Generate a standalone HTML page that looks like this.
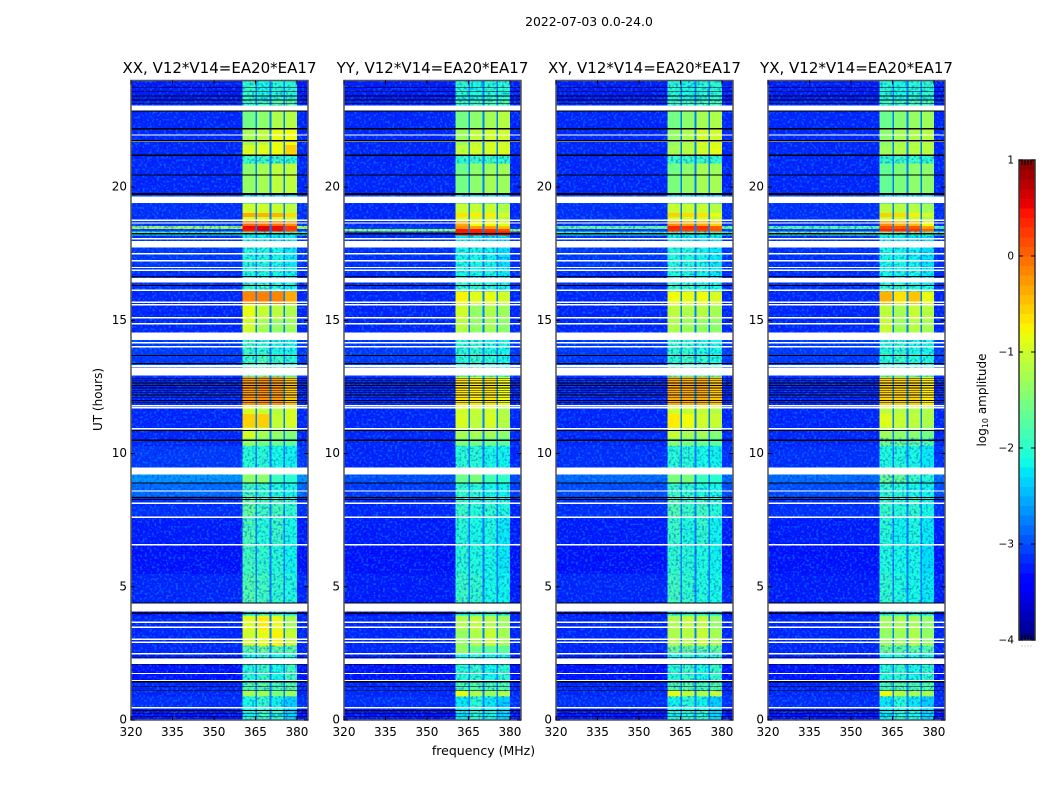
<!DOCTYPE html>
<html>
<head>
<meta charset="utf-8">
<title>2022-07-03 spectrogram</title>
<style>
html,body{margin:0;padding:0;background:#fff;width:1050px;height:800px;overflow:hidden}
svg{display:block}
text{font-family:"DejaVu Sans","Liberation Sans",sans-serif;fill:#000}
</style>
</head>
<body>
<svg id="fig" xmlns="http://www.w3.org/2000/svg" width="1050" height="800" viewBox="0 0 1050 800">
  <defs id="defs">
    <filter id="speckle-light" x="0" y="0" width="100%" height="100%" color-interpolation-filters="sRGB">
      <feTurbulence type="fractalNoise" baseFrequency="0.42" numOctaves="1" seed="7"/>
      <feColorMatrix type="matrix" values="0 0 0 0 0  0 0 0 0 0.72  0 0 0 0 1  7 0 0 0 -3.6"/>
    </filter>
    <filter id="speckle-dark" x="0" y="0" width="100%" height="100%" color-interpolation-filters="sRGB">
      <feTurbulence type="fractalNoise" baseFrequency="0.42" numOctaves="1" seed="19"/>
      <feColorMatrix type="matrix" values="0 0 0 0 0  0 0 0 0 0  0 0 0 0 0.8  7 0 0 0 -3.6"/>
    </filter>
  </defs>
  <text x="589" y="26" text-anchor="middle" font-size="12.4">2022-07-03 0.0-24.0</text>
  <text x="483.5" y="755" text-anchor="middle" font-size="12.5">frequency (MHz)</text>
  <text transform="translate(102,399.5) rotate(-90)" text-anchor="middle" font-size="12">UT (hours)</text>
  <text transform="translate(986,400) rotate(-90)" text-anchor="middle" font-size="12">log<tspan font-size="8" dy="2">10</tspan><tspan dy="-2"> amplitude</tspan></text>
  <g id="panels"></g>
  <g id="colorbar"></g>
</svg>
<script>
// ---- Chart data ----
const panelTitles = ['XX, V12*V14=EA20*EA17', 'YY, V12*V14=EA20*EA17', 'XY, V12*V14=EA20*EA17', 'YX, V12*V14=EA20*EA17'];
const freqTicks = [320, 335, 350, 365, 380];
const hourTicks = [0, 5, 10, 15, 20];
const colorbarTicks = [1, 0, -1, -2, -3, -4];
const colorbarLabels = ['1', '0', '\u22121', '\u22122', '\u22123', '\u22124'];
// Frequency blocks in MHz: the four sub-bands, separated by low-level gaps
const bandStarts = [360.4, 365.6, 370.8, 375.7];
const bandEnds = [365.0, 370.1, 375.1, 380.0];
// Time rows in hours
const rowStart = [0,.45,.9,1.1,1.5,2.1,2.5,2.8,3.4,3.95,4.4,5.5,6.6,7.6,8.4,8.9,9.47,10.3,10.6,11,11.5,11.85,12.9,13.7,14.3,15.05,15.62,16.1,16.4,17,17.75,18.2,18.35,18.45,18.55,18.72,18.9,19.05,19.41,19.72,20.44,20.9,21.2,21.6,22.2,22.85,23.3];
const rowEnd = [.45,.9,1.1,1.5,2.1,2.5,2.8,3.4,3.95,4.4,5.5,6.6,7.6,8.4,8.9,9.47,10.3,10.6,11,11.5,11.85,12.9,13.7,14.3,15.05,15.62,16.1,16.4,17,17.75,18.2,18.35,18.45,18.55,18.72,18.9,19.05,19.41,19.72,20.44,20.9,21.2,21.6,22.2,22.85,23.3,24];
// log10 amplitude per row: [background, band1, band2, band3, band4]
const levelsXX = [[-3.3,-2.1,-1.9,-2,-2.3],[-3.15,-2.1,-1.95,-2.15,-2.35],[-3.2,-1.25,-1.3,-1.5,-1.3],[-3.2,-1.75,-1.7,-1.8,-1.7],[-3.3,-2,-1.9,-2.1,-1.85],[-3.25,-2.1,-2,-2.1,-2],[-3.2,-1.7,-1.6,-1.7,-1.7],[-3.2,-1,-.85,-.75,-1.05],[-3.2,-.9,-.7,-.85,-1.25],[-3.3,-2.2,-2.1,-2.1,-2.2],[-3.2,-1.75,-1.85,-1.95,-2.05],[-3.3,-1.85,-1.95,-2,-2.15],[-3.25,-1.8,-2,-1.9,-2.1],[-3.15,-1.65,-1.85,-1.8,-1.95],[-2.85,-1.85,-1.95,-2.05,-2.1],[-2.65,-1.4,-1.4,-1.9,-2],[-3.1,-2,-2,-2.1,-2.15],[-3.2,-1.35,-1.55,-1.6,-1.7],[-3.2,-.95,-1.25,-1.35,-1.45],[-3.2,-.55,-.55,-1.05,-.95],[-3.2,-.95,-1.05,-1.15,-.95],[-3.2,-.25,-.2,-.25,-.5],[-3.1,-1.9,-1.8,-1.9,-2],[-3.1,-1.9,-1.95,-2.05,-2.1],[-3.2,-1,-1.25,-1.35,-1.3],[-3.2,-.85,-1.05,-1.1,-1.2],[-3.2,-.15,-.12,-.15,-.35],[-3.15,-1.9,-1.9,-2,-2.1],[-3.15,-2.05,-2.05,-2.1,-2.15],[-3.1,-2.05,-2.05,-2.1,-2.2],[-3.15,-2.2,-2.2,-2.25,-2.2],[-1.95,-1.8,-1.8,-1.8,-1.85],[-3.1,.45,.55,.5,.25],[-1.25,.5,.55,.5,.25],[-3.1,0,-.05,-.05,-.2],[-3.15,-.95,-.95,-.95,-1.05],[-3.15,-.35,-.4,-.4,-.6],[-3.15,-1,-1,-1.05,-1.1],[-3,-2.25,-2.25,-2.25,-2.3],[-3.2,-1.35,-1.25,-1.1,-1.1],[-3.2,-1.4,-1.25,-1.1,-1.1],[-3.2,-1.9,-1.9,-1.9,-1.95],[-3.2,-.95,-.9,-.8,-.55],[-3.2,-1.25,-1.1,-.85,-.8],[-3.2,-1.55,-1.4,-1.2,-1.15],[-3.2,-1.9,-1.85,-1.75,-1.7],[-3.25,-1.95,-2.1,-2,-2]];
const levelsYY = [[-3.3,-2.2,-2,-2.1,-2.3],[-3.15,-2.2,-2,-2.2,-2.35],[-3.2,-.85,-1.2,-1.3,-1.2],[-3.2,-1.8,-1.7,-1.8,-1.75],[-3.3,-2,-1.95,-2.1,-1.95],[-3.25,-2.1,-2,-2.1,-2.05],[-3.2,-1.35,-1.6,-1.7,-1.7],[-3.2,-1.35,-1.2,-1.05,-1.25],[-3.2,-1.2,-1.1,-1.15,-1.3],[-3.3,-2.2,-2.1,-2.1,-2.2],[-3.25,-1.9,-1.95,-2.1,-2.15],[-3.3,-2,-2.05,-2.1,-2.2],[-3.25,-2,-2.1,-2.05,-2.2],[-3.2,-1.9,-2,-1.95,-2.05],[-3.1,-1.95,-2,-2.1,-2.15],[-3,-1.6,-1.5,-1.85,-1.95],[-3.2,-2,-2,-2.1,-2.15],[-3.2,-1.5,-1.55,-1.6,-1.7],[-3.2,-1.25,-1.25,-1.25,-1.4],[-3.2,-.95,-1.1,-.95,-1.15],[-3.2,-1,-1.05,-1,-1.2],[-3.2,-.65,-.7,-.65,-.8],[-3.1,-2,-1.9,-2,-2.1],[-3.1,-2,-1.95,-2.05,-2.1],[-3.2,-1.15,-1.35,-1.25,-1.4],[-3.2,-1,-1.35,-1.2,-1.3],[-3.2,-.75,-.9,-.85,-1],[-3.15,-1.95,-1.9,-2,-2.1],[-3.15,-2.1,-2.1,-2.1,-2.2],[-3.15,-2.1,-2.1,-2.15,-2.25],[-3.15,-2.2,-2.2,-2.25,-2.25],[-3.1,.4,.4,.4,.4],[-1.3,.45,.4,.3,.15],[-3.1,-.2,-.3,-.3,-.5],[-3.2,-.35,-.8,-.75,-.9],[-3.2,-1,-1,-1,-1.2],[-3.2,-.65,-.7,-.7,-.95],[-3.2,-1.05,-1.05,-1.05,-1.2],[-3.05,-2.25,-2.25,-2.25,-2.3],[-3.2,-1.55,-1.4,-1.25,-1.3],[-3.2,-1.6,-1.4,-1.3,-1.3],[-3.2,-1.95,-1.9,-1.9,-1.95],[-3.2,-1.1,-1,-.95,-.95],[-3.2,-1.3,-1.1,-1,-1],[-3.2,-1.55,-1.4,-1.25,-1.15],[-3.2,-1.9,-1.85,-1.75,-1.75],[-3.25,-2,-2.1,-2,-2]];
const levelsXY = [[-3.3,-2.1,-2,-2,-2.3],[-3.15,-2.15,-2,-2.15,-2.35],[-3.2,-.85,-1.1,-1.2,-1.1],[-3.2,-1.75,-1.7,-1.8,-1.7],[-3.3,-2,-1.9,-2.1,-1.9],[-3.25,-2.1,-2,-2.1,-2],[-3.2,-1.6,-1.6,-1.7,-1.7],[-3.2,-1.2,-1.15,-1.05,-1.25],[-3.2,-1.2,-1.1,-1.1,-1.35],[-3.3,-2.2,-2.1,-2.1,-2.2],[-3.2,-1.85,-1.95,-2.05,-2.1],[-3.3,-1.95,-2,-2.05,-2.15],[-3.25,-1.9,-2.05,-1.95,-2.15],[-3.15,-1.75,-1.9,-1.85,-2],[-3,-1.9,-1.95,-2.05,-2.1],[-2.85,-1.5,-1.5,-1.9,-2],[-3.15,-2,-2,-2.1,-2.15],[-3.2,-1.45,-1.55,-1.6,-1.7],[-3.2,-1.05,-1.25,-1.25,-1.45],[-3.2,-.7,-.8,-1,-1.05],[-3.2,-1,-1.05,-1.05,-1.15],[-3.2,-.35,-.35,-.35,-.5],[-3.1,-1.95,-1.85,-1.95,-2],[-3.1,-1.95,-1.95,-2.05,-2.1],[-3.2,-1.2,-1.3,-1.35,-1.4],[-3.2,-1.1,-1.2,-1.15,-1.25],[-3.2,-.8,-.85,-.8,-.95],[-3.15,-1.9,-1.9,-2,-2.1],[-3.15,-2.05,-2.05,-2.1,-2.2],[-3.1,-2.05,-2.05,-2.1,-2.2],[-3.15,-2.2,-2.2,-2.25,-2.2],[-1.95,-1.8,-1.8,-1.8,-1.85],[-3.1,.3,.25,.25,.1],[-1.6,.35,.3,.3,.05],[-3.15,-.2,-.3,-.35,-.55],[-3.15,-1,-1,-1,-1.1],[-3.15,-.55,-.6,-.65,-.85],[-3.15,-1.05,-1.05,-1.05,-1.15],[-3.05,-2.25,-2.25,-2.25,-2.3],[-3.2,-1.5,-1.35,-1.25,-1.25],[-3.2,-1.55,-1.4,-1.25,-1.3],[-3.2,-1.9,-1.9,-1.9,-1.95],[-3.2,-1.25,-1.15,-1,-.85],[-3.2,-1.35,-1.2,-1,-1],[-3.2,-1.55,-1.4,-1.25,-1.2],[-3.2,-1.9,-1.85,-1.8,-1.75],[-3.25,-2,-2.1,-2,-2]];
const levelsYX = [[-3.3,-2.2,-2,-2.1,-2.3],[-3.15,-2.2,-2,-2.2,-2.35],[-3.2,-.85,-1.15,-1.25,-1.25],[-3.2,-1.8,-1.75,-1.8,-1.75],[-3.3,-2,-1.95,-2.1,-1.95],[-3.25,-2.1,-2,-2.1,-2.05],[-3.2,-1.6,-1.7,-1.7,-1.75],[-3.2,-1.35,-1.3,-1.2,-1.35],[-3.2,-1.3,-1.25,-1.25,-1.4],[-3.3,-2.2,-2.1,-2.1,-2.2],[-3.25,-1.95,-2.05,-2.1,-2.2],[-3.3,-2.05,-2.1,-2.1,-2.25],[-3.25,-2,-2.15,-2.05,-2.2],[-3.15,-1.9,-2,-1.95,-2.1],[-3,-1.95,-2,-2.1,-2.15],[-2.85,-1.6,-1.6,-1.9,-2],[-3.15,-2.05,-2.05,-2.1,-2.2],[-3.2,-1.55,-1.6,-1.65,-1.75],[-3.2,-1.3,-1.4,-1.4,-1.55],[-3.2,-.9,-1.05,-1.1,-1.2],[-3.2,-1.1,-1.15,-1.15,-1.2],[-3.2,-.55,-.55,-.55,-.7],[-3.1,-2,-1.9,-2,-2.05],[-3.1,-2,-1.95,-2.05,-2.1],[-3.2,-1.05,-1.3,-1.15,-1.25],[-3.2,-1.1,-1.25,-1.05,-1.15],[-3.2,-.4,-.65,-.5,-.85],[-3.15,-1.95,-1.9,-2,-2.1],[-3.15,-2.1,-2.1,-2.1,-2.2],[-3.15,-2.1,-2.1,-2.15,-2.25],[-3.15,-2.2,-2.2,-2.25,-2.25],[-1.7,-1.6,-1.6,-1.6,-1.65],[-3.1,.35,.35,.3,.05],[-1.7,.15,.1,.1,-.3],[-3.15,-.2,-.4,-.45,-.8],[-3.15,-1.05,-1.05,-1.1,-1.25],[-3.15,-.55,-.6,-.7,-.95],[-3.15,-1.15,-1.15,-1.15,-1.3],[-3.05,-2.25,-2.25,-2.25,-2.3],[-3.2,-1.65,-1.5,-1.4,-1.4],[-3.2,-1.65,-1.5,-1.4,-1.4],[-3.2,-1.95,-1.9,-1.9,-1.95],[-3.2,-1.3,-1.2,-1.15,-1.15],[-3.2,-1.4,-1.25,-1.2,-1.15],[-3.2,-1.6,-1.45,-1.35,-1.3],[-3.2,-1.9,-1.9,-1.8,-1.8],[-3.25,-2,-2.1,-2,-2]];
const panelLevels = [levelsXX, levelsYY, levelsXY, levelsYX];
// Flagged (no data) intervals in hours: shown white
const flagStart = [.45,1.46,1.73,2.11,2.48,2.91,3.01,3.46,3.65,4.08,6.56,7.6,8.12,8.58,9.21,10.92,11.71,11.78,12.92,13.23,13.99,14.14,14.26,14.85,15.09,15.57,15.66,16.12,16.42,16.87,16.97,17.22,17.49,17.73,18.04,18.64,18.74,19.41,21.7,21.94,22.87];
const flagEnd = [.49,1.5,1.77,2.31,2.52,2.95,3.05,3.5,3.69,4.37,6.6,7.64,8.16,8.62,9.47,10.96,11.75,11.82,13.21,13.32,14.03,14.18,14.54,14.89,15.13,15.61,15.7,16.16,16.58,16.91,17.01,17.26,17.53,17.98,18.08,18.68,18.78,19.65,21.74,21.98,23.06];
// Zero-amplitude intervals in hours: shown black
const zeroStart = [.11,.24,.34,1.1,1.23,1.38,1.44,2.08,2.34,3.98,4.38,8.26,8.33,8.88,10.48,10.85,11.89,11.98,12.08,12.18,12.27,12.36,12.45,12.54,12.63,12.72,12.81,13.36,13.66,16.28,16.62,18.22,19.7,20.43,21.16,21.72,22.17,22.84,23.11,23.25,23.4,23.56,23.71];
const zeroEnd = [.14,.27,.37,1.13,1.26,1.41,1.46,2.11,2.37,4.04,4.41,8.29,8.36,8.92,10.52,10.88,11.92,12.01,12.11,12.21,12.3,12.39,12.48,12.57,12.66,12.75,12.84,13.39,13.7,16.32,16.66,18.28,19.77,20.47,21.22,21.76,22.21,22.87,23.14,23.28,23.43,23.59,23.74];
const colorbarSteps = [-4,-3.9,-3.8,-3.7,-3.6,-3.5,-3.4,-3.3,-3.2,-3.1,-3,-2.9,-2.8,-2.7,-2.6,-2.5,-2.4,-2.3,-2.2,-2.1,-2,-1.9,-1.8,-1.7,-1.6,-1.5,-1.4,-1.3,-1.2,-1.1,-1,-.9,-.8,-.7,-.6,-.5,-.4,-.3,-.2,-.1,0,.1,.2,.3,.4,.5,.6,.7,.8,.9];

// ---- Geometry ----
const panelLefts = [131, 344, 556, 768];
const panelWidth = 177, plotTop = 80.5, plotBottom = 720;
const freqMin = 320, freqMax = 384, hourMin = 0, hourMax = 24;
const cbLeft = 1019, cbRight = 1035, cbTop = 160, cbBottom = 640, cbMin = -4, cbMax = 1;
const speckleCeiling = -1.55;
const NS = 'http://www.w3.org/2000/svg';

function xScale(left, f) { return left + (f - freqMin) / (freqMax - freqMin) * panelWidth; }
function yScale(h) { return plotBottom - (h - hourMin) / (hourMax - hourMin) * (plotBottom - plotTop); }
function cbScale(v) { return cbBottom - (v - cbMin) / (cbMax - cbMin) * (cbBottom - cbTop); }

function interp(stops, t) {
  for (let i = 1; i < stops.length; i++) {
    if (t <= stops[i][0]) {
      const a = stops[i - 1], b = stops[i];
      return a[1] + (b[1] - a[1]) * (t - a[0]) / (b[0] - a[0]);
    }
  }
  return stops[stops.length - 1][1];
}
const jetR = [[0,0],[.35,0],[.66,1],[.89,1],[1,.5]];
const jetG = [[0,0],[.125,0],[.375,1],[.64,1],[.91,0],[1,0]];
const jetB = [[0,.5],[.11,1],[.34,1],[.65,0],[1,0]];
function jet(v) {
  const t = Math.max(0, Math.min(1, (v - cbMin) / (cbMax - cbMin)));
  const c = s => Math.round(255 * interp(s, t));
  return 'rgb(' + c(jetR) + ',' + c(jetG) + ',' + c(jetB) + ')';
}
function rect(parent, x, y, w, h, fill) {
  const r = document.createElementNS(NS, 'rect');
  r.setAttribute('x', x.toFixed(2));
  r.setAttribute('y', y.toFixed(2));
  r.setAttribute('width', w.toFixed(2));
  r.setAttribute('height', h.toFixed(2));
  r.setAttribute('fill', fill);
  r.setAttribute('shape-rendering', 'crispEdges');
  parent.appendChild(r);
  return r;
}
function group(parent) {
  const g = document.createElementNS(NS, 'g');
  parent.appendChild(g);
  return g;
}
function label(parent, x, y, anchor, size, str) {
  const t = document.createElementNS(NS, 'text');
  t.setAttribute('x', x);
  t.setAttribute('y', y);
  t.setAttribute('text-anchor', anchor);
  t.setAttribute('font-size', size);
  t.textContent = str;
  parent.appendChild(t);
  return t;
}
function tick(parent, x1, y1, x2, y2) {
  const l = document.createElementNS(NS, 'line');
  l.setAttribute('x1', x1);
  l.setAttribute('y1', y1);
  l.setAttribute('x2', x2);
  l.setAttribute('y2', y2);
  l.setAttribute('stroke', '#000');
  l.setAttribute('stroke-width', '1');
  parent.appendChild(l);
  return l;
}

// ---- Panels ----
const panelsRoot = document.getElementById('panels');
const defsRoot = document.getElementById('defs');
panelTitles.forEach(function (title, p) {
  const left = panelLefts[p];
  const levels = panelLevels[p];
  const right = left + panelWidth;
  const panel = group(panelsRoot);
  
  

  const heat = group(panel);
  
  

  // speckle is only visible on the low-amplitude parts of the image
  const bandLeft = xScale(left, bandStarts[0]);
  const bandRight = xScale(left, bandEnds[3]);
  const clip = document.createElementNS(NS, 'clipPath');
  clip.setAttribute('id', 'speckle-clip-' + p);
  defsRoot.appendChild(clip);
  rect(clip, left, plotTop, bandLeft - left, plotBottom - plotTop, '#000');
  rect(clip, bandRight, plotTop, right - bandRight, plotBottom - plotTop, '#000');

  rowStart.forEach(function (start, r) {
    const row = levels[r];
    const top = yScale(rowEnd[r]);
    const height = yScale(start) - top + 0.5;
    const bg = rect(heat, left, top, panelWidth, height, jet(row[0]));
    
    
    const strongest = Math.max(row[1], row[2], row[3], row[4]);
    const gap = rect(heat, bandLeft, top, bandRight - bandLeft, height, jet(-2.75));
    
    
    bandStarts.forEach(function (f0, b) {
      const x0 = xScale(left, f0);
      const cell = rect(heat, x0, top, xScale(left, bandEnds[b]) - x0, height, jet(row[b + 1]));
      
      
    });
    if (strongest <= speckleCeiling) {
      rect(clip, bandLeft, top, bandRight - bandLeft, height, '#000');
    }
  });

  const grainLight = rect(panel, left, plotTop, panelWidth, plotBottom - plotTop, '#000');
  grainLight.setAttribute('filter', 'url(#speckle-light)');
  grainLight.setAttribute('clip-path', 'url(#speckle-clip-' + p + ')');
  grainLight.setAttribute('opacity', '0.38');
  
  
  const grainDark = rect(panel, left, plotTop, panelWidth, plotBottom - plotTop, '#000');
  grainDark.setAttribute('filter', 'url(#speckle-dark)');
  grainDark.setAttribute('clip-path', 'url(#speckle-clip-' + p + ')');
  grainDark.setAttribute('opacity', '0.3');
  
  

  flagStart.forEach(function (start, i) {
    const top = yScale(flagEnd[i]);
    const band = rect(panel, left, top, panelWidth, Math.max(yScale(start) - top, 1.4), '#fff');
    
    
  });
  zeroStart.forEach(function (start, i) {
    const top = yScale(zeroEnd[i]);
    const band = rect(panel, left, top, panelWidth, Math.max(yScale(start) - top, 0.8), '#000');
    
    
  });

  const frame = document.createElementNS(NS, 'rect');
  frame.setAttribute('x', left);
  frame.setAttribute('y', plotTop);
  frame.setAttribute('width', panelWidth);
  frame.setAttribute('height', plotBottom - plotTop);
  frame.setAttribute('fill', 'none');
  frame.setAttribute('stroke', '#555');
  frame.setAttribute('stroke-width', '1.5');
  
  
  panel.appendChild(frame);

  const titleEl = label(panel, left + panelWidth / 2, 73, 'middle', 15, title);
  
  

  freqTicks.forEach(function (f) {
    const x = xScale(left, f);
    const t1 = tick(panel, x, plotBottom, x, plotBottom - 4);
    
    
    const t2 = tick(panel, x, plotTop, x, plotTop + 4);
    
    
    const tl = label(panel, x, 736, 'middle', 12, String(f));
    
    
  });
  hourTicks.forEach(function (h) {
    const y = yScale(h);
    const t1 = tick(panel, left, y, left + 4, y);
    
    
    const t2 = tick(panel, right, y, right - 4, y);
    
    
    const tl = label(panel, left - 4, y + 3.5, 'end', 12, String(h));
    
    
  });
});

// ---- Colorbar ----
const cbRoot = document.getElementById('colorbar');
colorbarSteps.forEach(function (v) {
  const top = cbScale(v + 0.1);
  const s = rect(cbRoot, cbLeft, top, cbRight - cbLeft, cbScale(v) - top + 0.5, jet(v + 0.05));
  
  
});
const cbFrame = document.createElementNS(NS, 'rect');
cbFrame.setAttribute('x', cbLeft);
cbFrame.setAttribute('y', cbTop);
cbFrame.setAttribute('width', cbRight - cbLeft);
cbFrame.setAttribute('height', cbBottom - cbTop);
cbFrame.setAttribute('fill', 'none');
cbFrame.setAttribute('stroke', '#333');
cbFrame.setAttribute('stroke-width', '1.5');


cbRoot.appendChild(cbFrame);
colorbarTicks.forEach(function (v, i) {
  const y = cbScale(v);
  const a = tick(cbRoot, cbLeft, y, cbLeft + 4, y);
  
  
  const b = tick(cbRoot, cbRight, y, cbRight - 4, y);
  
  
  const tl = label(cbRoot, cbLeft - 5, y + 3.5, 'end', 10.5, colorbarLabels[i]);
  
  
});
[3, 6, 9, 12].forEach(function (d) {
  const a = tick(cbRoot, cbLeft + d, cbTop, cbLeft + d, cbTop + 5);
  
  
  const b = tick(cbRoot, cbLeft + d, cbBottom, cbLeft + d, cbBottom - 5);
  
  
  const c = rect(cbRoot, cbLeft + d - 0.5, cbBottom + 5.5, 1, 1, '#aaa');
  
  
});
</script>
</body>
</html>
